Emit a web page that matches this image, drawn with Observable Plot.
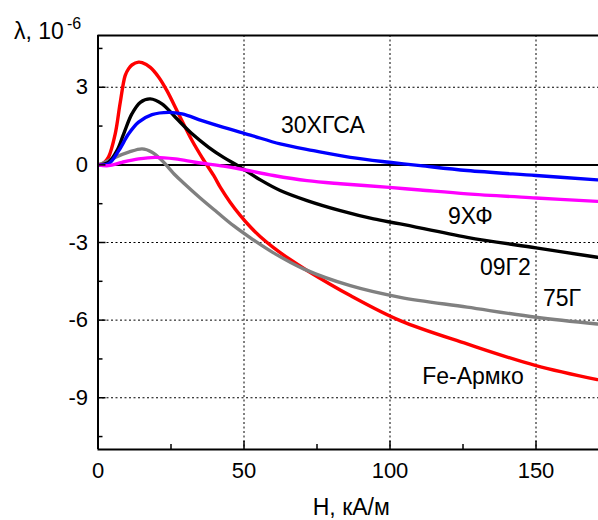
<!DOCTYPE html>
<html><head><meta charset="utf-8">
<script src="https://cdn.jsdelivr.net/npm/d3@7"></script>
<script src="https://cdn.jsdelivr.net/npm/@observablehq/plot@0.6"></script>
<style>
html,body{margin:0;padding:0;background:#fff}
svg{display:block}
</style>
</head><body><div id="chart"></div>
<script>
// Series names and colours
const seriesNames = ["Fe-Армко", "75Г", "09Г2", "30ХГСА", "9ХФ"];
const seriesColors = ["#ff0000", "#808080", "#000000", "#0000ff", "#ff00ff"];

// H, kA/m  and  λ, 1e-6
const feX = [0, 2, 3.6, 5.9, 7.6, 9.3, 10.5, 11.6, 13.9, 15.1, 17.9, 20.8, 23.6, 27.6, 32.2, 35.6, 39.6, 41.9, 45.3, 48.7, 52.2, 55.6, 60.1, 65, 71.6, 86.4, 103.5, 126.4, 150, 171];
const feY = [0, 0.08, 0.3, 1.2, 2.4, 3.45, 3.72, 3.86, 3.97, 3.95, 3.77, 3.39, 2.87, 1.97, 0.94, 0.29, -0.41, -0.87, -1.45, -1.95, -2.4, -2.78, -3.2, -3.6, -4.08, -5.05, -6.02, -6.92, -7.76, -8.3];

const g75X = [0, 2, 5.9, 10.5, 15.1, 18.5, 21.9, 26.5, 29.3, 35, 40.8, 46.4, 52.2, 60.1, 70.4, 86.4, 103.5, 126.4, 150, 171];
const g75Y = [0, 0.08, 0.29, 0.49, 0.62, 0.49, 0.17, -0.4, -0.7, -1.28, -1.83, -2.35, -2.82, -3.4, -4.02, -4.67, -5.12, -5.5, -5.89, -6.15];

const g09X = [0, 3.6, 6.5, 8.8, 11.6, 14.5, 17.9, 21.9, 26.5, 32.2, 37.9, 43, 48.2, 55.6, 62.4, 71.6, 83, 94.4, 103.5, 126.4, 150, 171];
const g09Y = [0, 0.1, 0.55, 1.2, 1.97, 2.42, 2.55, 2.36, 1.84, 1.2, 0.68, 0.29, -0.05, -0.58, -0.99, -1.38, -1.77, -2.09, -2.28, -2.8, -3.21, -3.57];

const g30X = [0, 3.6, 7.1, 10.5, 13.9, 18.5, 24.2, 28.8, 35.6, 43, 52.2, 62.4, 73.8, 86.4, 99.8, 110.4, 126.4, 150, 171];
const g30Y = [0, 0.04, 0.55, 1.2, 1.65, 1.94, 2.03, 1.97, 1.71, 1.45, 1.15, 0.81, 0.55, 0.29, 0.1, -0.03, -0.22, -0.41, -0.58];

const g9X = [0, 3.6, 8.2, 13.9, 19.6, 26.5, 33.3, 37.3, 43, 48.7, 60.1, 71.6, 83, 99.8, 110.4, 126.4, 150, 171];
const g9Y = [0, -0.03, 0.1, 0.23, 0.29, 0.23, 0.1, 0.04, -0.05, -0.16, -0.41, -0.61, -0.73, -0.87, -0.97, -1.12, -1.28, -1.41];

// Tick values
const yMajorTicks = [-9, -6, -3, 0, 3];
const yMinorTicks = [-10.5, -7.5, -4.5, -1.5, 1.5, 4.5];
const yGridTicks = [-9, -6, -3, 3];
const xMajorTicks = [0, 50, 100, 150];
const xMinorTicks = [25, 75, 125];
const xGridTicks = [50, 100, 150];

// Curve annotations
const labelText = ["30ХГСА", "9ХФ", "09Г2", "75Г", "Fe-Армко"];
const labelX = [77, 127.5, 139.5, 158.9, 128.4];
const labelY = [1.52, -1.99, -3.99, -5.15, -8.18];

const seriesX = [feX, g75X, g09X, g30X, g9X];
const seriesY = [feY, g75Y, g09Y, g30Y, g9Y];
const rows = [];
seriesNames.forEach((name, k) => seriesX[k].forEach((x, i) => rows.push({name, x, y: seriesY[k][i]})));
const labels = labelText.map((t, i) => ({t, x: labelX[i], y: labelY[i]}));

const font = "'Liberation Sans', Arial, sans-serif";
const gridStyle = {stroke: "#000", strokeOpacity: 1, strokeWidth: 1, strokeDasharray: "2,2.5"};

const chart = Plot.plot({
  width: 598, height: 520,
  marginLeft: 97.5, marginRight: 0, marginTop: 35, marginBottom: 71,
  style: "font-family: 'Liberation Sans', Arial, sans-serif; font-size: 22px; color: #000; background: #fff;",
  x: {domain: [0, 171.4]},
  y: {domain: [-11, 5]},
  color: {domain: seriesNames, range: seriesColors},
  marks: [
    Plot.gridX({ticks: xGridTicks, ...gridStyle}),
    Plot.gridY({ticks: yGridTicks, ...gridStyle}),
    Plot.ruleY([0], {stroke: "#000", strokeWidth: 2}),
    Plot.line(rows, {x: "x", y: "y", z: "name", stroke: "name", strokeWidth: 3.4, curve: "catmull-rom", clip: true}),
    Plot.ruleX([0], {stroke: "#000", strokeWidth: 2}),
    Plot.ruleY([-11], {stroke: "#000", strokeWidth: 2}),
    Plot.ruleY([5], {stroke: "#000", strokeWidth: 2}),
    Plot.axisX({ticks: xMajorTicks, tickSize: -8, strokeWidth: 1.5, tickFormat: () => "", label: null}),
    Plot.axisX({ticks: xMinorTicks, tickSize: -5, strokeWidth: 1.5, tickFormat: () => "", label: null}),
    Plot.axisY({ticks: yMajorTicks, tickSize: -8, strokeWidth: 1.5, tickFormat: () => "", label: null}),
    Plot.axisY({ticks: yMinorTicks, tickSize: -5, strokeWidth: 1.5, tickFormat: () => "", label: null}),
    Plot.axisX({ticks: xMajorTicks, tickSize: 0, tickPadding: 13, tickFormat: d => String(d), label: null, fontSize: 22, fontFamily: font}),
    Plot.axisY({ticks: yMajorTicks, tickSize: 0, tickPadding: 10, tickFormat: d => String(d), label: null, fontSize: 22, fontFamily: font}),
    Plot.text(labels, {x: "x", y: "y", text: "t", textAnchor: "middle", lineAnchor: "middle", fontSize: 23, fontFamily: font, fill: "#000"}),
    Plot.text(["λ, 10"], {frameAnchor: "top-left", dx: -84, dy: 3, textAnchor: "start", lineAnchor: "bottom", fontSize: 23, fontFamily: font, fill: "#000"}),
    Plot.text(["-6"], {frameAnchor: "top-left", dx: -31, dy: -7, textAnchor: "start", lineAnchor: "bottom", fontSize: 16, fontFamily: font, fill: "#000"}),
    Plot.text(["H, кА/м"], {frameAnchor: "bottom", dx: 3, dy: 65, textAnchor: "middle", lineAnchor: "bottom", fontSize: 23, fontFamily: font, fill: "#000"})
  ]
});
document.getElementById("chart").appendChild(chart);
</script>
</body></html>
